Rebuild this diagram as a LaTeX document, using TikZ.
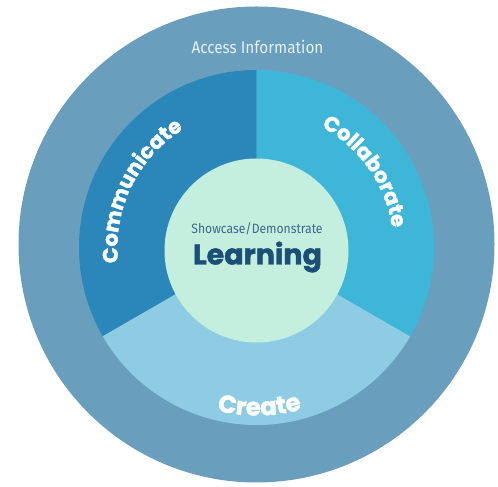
\documentclass[tikz,border=0pt]{standalone}
\usepackage{fontspec}
\setmainfont{Poppins}[BoldFeatures={FakeBold=1.6}]
\newfontfamily\infofont{Fira Sans}[FakeStretch=0.9]
\usetikzlibrary{decorations.text}

\definecolor{ringblue}{HTML}{699EBD}
\definecolor{commblue}{HTML}{2B87B9}
\definecolor{collabblue}{HTML}{3EB6D7}
\definecolor{createblue}{HTML}{8DCCE3}
\definecolor{coremint}{HTML}{C4EFDE}
\definecolor{navytext}{HTML}{1B4F75}
\definecolor{softwhite}{HTML}{E6F1F6}

\newcommand\sectorfont{\bfseries\fontsize{21}{21}\selectfont}
\newcommand\createfont{\bfseries\fontsize{24.5}{24.5}\selectfont}

\tikzset{
  arclabel/.style={decoration={text along path, text align=center,
      text color=white}, postaction={decorate}},
}

\begin{document}
\begin{tikzpicture}[x=1pt,y=1pt]
            \useasboundingbox (0,0) rectangle (498,487);
            \coordinate (o) at (256.5,242.5);
            \coordinate (m) at (256.5,239.5);
            \coordinate (i) at (256.5,236.5);

            % rings and sectors
            \fill[ringblue] (o) circle[radius=238];
            \fill[commblue] (m) -- ++(90:177.5) arc[start angle=90,end angle=210,radius=177.5] -- cycle;
            \fill[createblue] (m) -- ++(210:177.5) arc[start angle=210,end angle=330,radius=177.5] -- cycle;
            \fill[collabblue] (m) -- ++(330:177.5) arc[start angle=-30,end angle=90,radius=177.5] -- cycle;
            \fill[coremint] (i) circle[radius=92];

            % curved labels
            \path[arclabel,decoration={text={|\sectorfont|Communicate}}] (m) ++(204:139) arc[start angle=204,end angle=104,radius=139];
            \path[arclabel,decoration={text={|\sectorfont|Collaborate}}] (m) ++(75:137) arc[start angle=75,end angle=-5,radius=137];
            \path[arclabel,decoration={text={|\createfont|Create}}] (m) ++(231:168) arc[start angle=231,end angle=311,radius=168];

            % straight labels
            \node[text=softwhite,font=\infofont\fontsize{17}{17}\selectfont] (info) at (257.5,440) {Access Information};
            \node[text=navytext!85,font=\infofont\fontsize{13.5}{13.5}\selectfont] (showcase) at (257,258) {Showcase/Demonstrate};
            \node[text=navytext,font=\bfseries\fontsize{28.5}{28.5}\selectfont] (learning) at (257.5,230) {Learning};
\end{tikzpicture}
\end{document}
